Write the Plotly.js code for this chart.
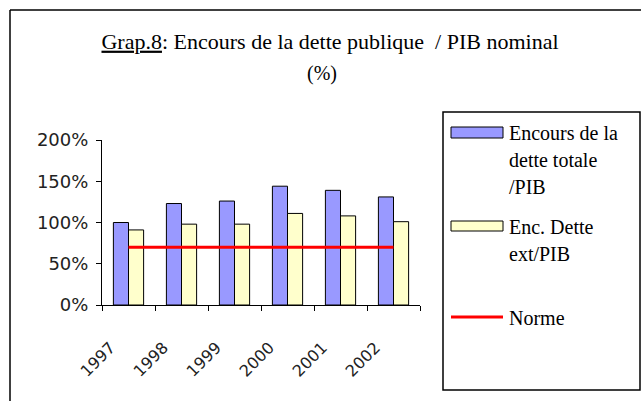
<!DOCTYPE html>
<html>
<head>
<meta charset="utf-8">
<script src="https://cdn.plot.ly/plotly-3.0.1.min.js"></script>
<style>html,body{margin:0;padding:0;background:#fff;}#chart{width:641px;height:401px;}</style>
</head>
<body>
<div id="chart"></div>
<script>
const years = ['1997','1998','1999','2000','2001','2002'];
const detteTotale = [100, 123, 126, 144, 139, 131];
const detteExt = [91, 98, 98, 111, 108, 101];
const norme = [70, 70, 70, 70, 70, 70];
const seriesNames = ['Encours de la<br>dette totale<br>/PIB', 'Enc. Dette<br>ext/PIB', 'Norme'];
const yTicks = [0, 50, 100, 150, 200];

const W = 641, H = 401;
const L = 102, R = 420, T = 140, B = 305;
const px = x => (x - L) / (R - L);
const py = y => (B - y) / (B - T);

const serif = 'Liberation Serif';
const sans = 'DejaVu Sans';

const traces = [
  {type:'bar', x: years, y: detteTotale, name: seriesNames[0],
   marker:{color:'#9999FF', line:{color:'#000', width:1}}, showlegend:false},
  {type:'bar', x: years, y: detteExt, name: seriesNames[1],
   marker:{color:'#FFFFCC', line:{color:'#000', width:1}}, showlegend:false},
  {type:'scatter', mode:'lines', x: years, y: norme, name: seriesNames[2],
   line:{color:'#FF0000', width:3}, showlegend:false}
];

const shapes = [
  {type:'line', xref:'paper', yref:'paper', x0:px(10), x1:px(10), y0:py(10), y1:py(410), line:{color:'#000', width:1.5}},
  {type:'line', xref:'paper', yref:'paper', x0:px(10), x1:px(650), y0:py(10), y1:py(10), line:{color:'#000', width:1.5}},
  {type:'rect', xref:'paper', yref:'paper', x0:px(443), x1:px(640), y0:py(112), y1:py(390), line:{color:'#000', width:1.5}, fillcolor:'rgba(0,0,0,0)'},
  {type:'rect', xref:'paper', yref:'paper', x0:px(451), x1:px(503), y0:py(127), y1:py(138), line:{color:'#000', width:1}, fillcolor:'#9999FF'},
  {type:'rect', xref:'paper', yref:'paper', x0:px(451), x1:px(503), y0:py(221), y1:py(231), line:{color:'#000', width:1}, fillcolor:'#FFFFCC'},
  {type:'line', xref:'paper', yref:'paper', x0:px(451), x1:px(503), y0:py(317), y1:py(317), line:{color:'#FF0000', width:3}}
];

const annotations = [];
const legendStarts = [133, 227, 318];
seriesNames.forEach((nm, i) => {
  nm.split('<br>').forEach((line, j) => {
    annotations.push({xref:'paper', yref:'paper', x:px(507), y:py(legendStarts[i] + j*27),
      xanchor:'left', yanchor:'middle', showarrow:false, text:line,
      font:{family:serif, size:20, color:'#000'}});
  });
});
annotations.push({xref:'paper', yref:'paper', x:px(322), y:py(73), xanchor:'center', yanchor:'middle',
  showarrow:false, text:'(%)', font:{family:serif, size:20, color:'#000'}});

const layout = {
  width: W, height: H,
  margin:{l:L, r:W-R, t:T, b:H-B, pad:0},
  paper_bgcolor:'#fff', plot_bgcolor:'#fff',
  title:{text:'<u>Grap.8</u>: Encours de la dette publique  / PIB nominal',
    font:{family:serif, size:22, color:'#000'},
    x: 330/W, xanchor:'center', xref:'container',
    y: 1 - 41/H, yanchor:'middle', yref:'container'},
  barmode:'group', bargap:0.43, bargroupgap:0,
  showlegend:false,
  xaxis:{type:'category', showline:true, linecolor:'#000', linewidth:1,
    ticks:'outside', ticklen:5, tickcolor:'#000', tickson:'boundaries',
    tickangle:-45, showgrid:false, zeroline:false,
    ticklabelstandoff:26, ticklabelshift:-18,
    tickfont:{family:sans, size:16, color:'#222'}},
  yaxis:{range:[0,200], tickvals:yTicks, ticktext:yTicks.map(v=>v+'%'),
    showline:true, linecolor:'#000', linewidth:1, ticks:'outside', ticklen:5, tickcolor:'#000',
    showgrid:false, zeroline:false, fixedrange:true, ticklabelstandoff:4,
    tickfont:{family:sans, size:18, color:'#222'}},
  shapes, annotations
};

Plotly.newPlot('chart', traces, layout, {displayModeBar:false, staticPlot:true});
</script>
</body>
</html>
